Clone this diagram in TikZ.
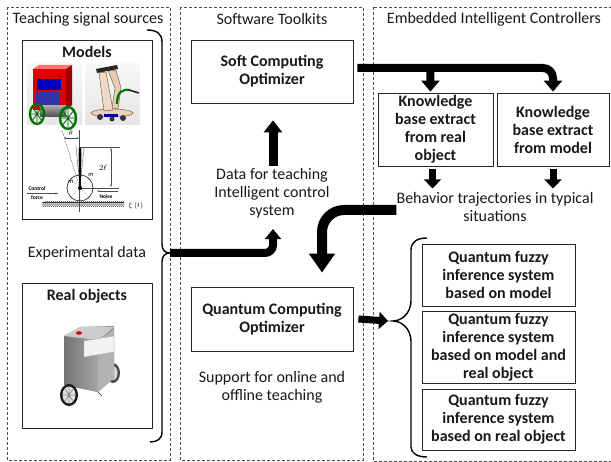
\documentclass[tikz,border=0pt]{standalone}
\usepackage{fontspec}
\setmainfont{Carlito}
\usetikzlibrary{arrows.meta,patterns,calc}
\begin{document}
\begin{tikzpicture}[x=1pt,y=-1pt,
  panel/.style={draw=black!70, dash pattern=on 3pt off 2pt, line width=0.7pt},
  box/.style={draw=black!85, line width=0.8pt, fill=white, inner sep=0pt},
  txt/.style={font=\fontsize{16}{18}\selectfont, align=center, inner sep=0pt, text=black!90},
  btxt/.style={font=\bfseries\fontsize{16}{18}\selectfont, align=center, inner sep=0pt, text=black!90},
  brace/.style={draw=black, line width=1.4pt},
  fatA/.style={line width=8pt, -{Triangle[width=16pt,length=10pt]}, rounded corners=8pt},
  fatU/.style={line width=9pt, -{Triangle[width=18pt,length=12pt]}},
  fatK/.style={line width=8pt, -{Triangle[width=18pt,length=11pt]}, rounded corners=10pt},
  fatS/.style={line width=7pt, -{Triangle[width=17pt,length=9pt]}},
  fatB/.style={line width=10pt, -{Triangle[width=25pt,length=19pt]}, rounded corners=22pt},
  tiny/.style={font=\bfseries\fontsize{5.5}{6}\selectfont, inner sep=0pt},
  thinl/.style={draw=black!70, line width=0.4pt}
]
\useasboundingbox (0,0) rectangle (611,462);
\fill[white] (0,0) rectangle (611,462);

% ---------- panels ----------
\draw[panel] (7,7) rectangle (170,460);
\draw[panel] (180,7) rectangle (363,460);
\draw[panel] (373,7) rectangle (616,461);

\node[txt] (t1) at (88,19) {Teaching signal sources};
\node[txt] (t2) at (272,19) {Software Toolkits};
\node[txt] (t3) at (494,19) {Embedded Intelligent Controllers};

% ---------- left panel ----------
\node[box, minimum width=130pt, minimum height=179pt] (mbox) at (87,129.5) {};
\node[btxt] (mtitle) at (87,52) {Models};
\node[txt] (exp) at (87,253) {Experimental data};
\node[box, minimum width=130pt, minimum height=145pt] (rbox) at (87,355.5) {};
\node[btxt] (rtitle) at (87,296) {Real objects};

% image 1: red robot
\shade[top color=black!3, bottom color=black!10] (27,64) rectangle (82,125);
\fill[red!55] (33,69) -- (39,65) -- (72,65) -- (66,69) -- cycle;
\fill[red!60!black] (66,69) -- (72,65) -- (72,105) -- (66,110) -- cycle;
\fill[red!85!black] (33,69) rectangle (66,110);
\fill[blue!75!black] (37,79) rectangle (61,90);
\fill[blue!55!black!80] (36,92) rectangle (59,106);
\fill[red!90!black] (33,69) rectangle (66,75);
\shade[top color=black!35, bottom color=black!70] (40,106) rectangle (66,117);
\draw[green!45!black, line width=2.2pt] (37,114) ellipse (7pt and 10pt);
\draw[green!45!black, line width=0.8pt] (37,104) -- (37,124) (30,114) -- (44,114) (32,107) -- (42,121) (42,107) -- (32,121);
\draw[green!45!black, line width=2.4pt] (68,118) ellipse (8pt and 11pt);
\draw[green!45!black, line width=0.8pt] (68,107) -- (68,129) (60,118) -- (76,118) (62,110) -- (74,126) (74,110) -- (62,126);

% image 2: tan robot
\shade[top color=black!3, bottom color=black!10] (85,64) rectangle (140,125);
\fill[brown!35!white] (112,113) ellipse (21pt and 4pt);
\draw[brown!60!black, line width=0.4pt] (112,113) ellipse (21pt and 4pt);
\fill[black!80] (100,117) circle (3pt) (123,118) circle (3pt) (112,119) circle (2.5pt);
\fill[blue!60!black] (104,114) rectangle (118,117);
\fill[brown!30!white] (99,73) -- (106,72) -- (113,110) -- (104,111) -- cycle;
\draw[brown!60!black, line width=0.4pt] (99,73) -- (106,72) -- (113,110) -- (104,111) -- cycle;
\fill[brown!40!white] (108,71) -- (116,70) -- (121,88) -- (118,109) -- (112,108) -- (115,88) -- cycle;
\draw[brown!60!black, line width=0.4pt] (108,71) -- (116,70) -- (121,88) -- (118,109) -- (112,108) -- (115,88) -- cycle;
\fill[black!85] (96,69) -- (117,65) -- (118,69) -- (97,73) -- cycle;
\draw[green!45!black, line width=2.2pt] (117,104) .. controls (117,92) and (122,89) .. (130,90);
\draw[black!85, line width=1.6pt] (129,90) -- (139,93);

% schematic
\draw[thinl] (79,130) -- (79,212);
\draw[thinl, dash pattern=on 1.5pt off 1pt] (80,188) -- (62,130);
\draw[thinl] (80,147) -- (120,147);
\draw[thinl] (80,188) -- (119,188);
\draw[thinl, {Stealth[length=2.5pt]}-{Stealth[length=2.5pt]}] (111,148) -- (111,187);
\node[font=\fontsize{8}{9}\selectfont, inner sep=0pt] (ell) at (103,168) {$2\ell$};
\draw[thinl, {Stealth[length=2pt]}-{Stealth[length=2pt]}] (64,138) -- (79,138);
\node[font=\fontsize{7}{8}\selectfont, inner sep=0pt] (th) at (71,133) {$\theta$};
\draw[black!60, line width=0.4pt] (80,188) -- (76,147) (80,188) -- (84,147) (80,188) -- (78,147) (80,188) -- (82,147);
\draw[black, line width=2.6pt] (80,188) -- (80,148);
\draw[black!80, line width=0.7pt] (80,188) circle (13pt);
\draw[black!50, line width=0.3pt, dash pattern=on 1pt off 1pt] (67,188) -- (93,188) (80,175) -- (80,201) (71,179) -- (89,197) (89,179) -- (71,197);
\fill[black] (80,188) circle (2pt);
\node[font=\itshape\fontsize{6.5}{7}\selectfont, inner sep=0pt] (m1) at (91,175) {m};
\node[font=\itshape\fontsize{6.5}{7}\selectfont, inner sep=0pt] (m2) at (71,182) {m};
\node[tiny] (cf1) at (37,189) {Control};
\node[tiny] (cf2) at (37,198) {force};
\draw[thinl, -{Stealth[length=2.5pt]}] (27,193.5) -- (58,193.5);
\node[tiny] (nz) at (106,197) {Noise};
\draw[thinl, -{Stealth[length=2.5pt]}] (118,191) -- (97,191);
\begin{scope}
\clip (42,202) rectangle (124,207);
\foreach \i in {0,2,...,90} { \draw[black!75, line width=0.45pt] (40+\i,208) -- (46+\i,201); }
\end{scope}
\draw[black!80, line width=0.5pt] (42,202) -- (124,202);
\node[font=\fontsize{7}{8}\selectfont, inner sep=0pt] (xi) at (136,206) {$\xi\ (t)$};

% real object robot
\fill[black!70] (113,373) ellipse (7pt and 10pt);
\fill[black!15] (113,373) ellipse (4.5pt and 7pt);
\fill[black!45] (64,336) -- (80,327) -- (114,326) -- (114,378) -- (98,392) -- (64,385) -- cycle;
\shade[left color=black!55, right color=black!35] (64,336) -- (98,340) -- (98,392) -- (64,385) -- cycle;
\fill[black!30] (98,340) -- (114,329) -- (114,378) -- (98,392) -- cycle;
\fill[black!20] (64,336) -- (80,327) -- (114,327) -- (98,340) -- cycle;
\fill[red!80!black] (79,333) ellipse (3pt and 1.8pt);
\fill[black!5] (84,341) -- (114,336) -- (114,352) -- (84,357) -- cycle;
\draw[black!30, line width=0.4pt] (84,341) -- (114,336) -- (114,352) -- (84,357) -- cycle;
\fill[black!90] (69,395) ellipse (9pt and 11pt);
\fill[black!12] (69,395) ellipse (6.5pt and 8.5pt);
\draw[black!45, line width=0.7pt] (69,387) -- (69,403) (63,395) -- (75,395) (65,389) -- (73,401) (73,389) -- (65,401);
\draw[black!80, line width=0.6pt] (98,392) -- (102,396);

% left brace
\coordinate (lbt) at (170,253);
\draw[brace] (147,30) .. controls (157,30) and (162,34) .. (162,42) -- (162,244)
  .. controls (162,250) and (165,253) .. (lbt)
  .. controls (165,253) and (162,256) .. (162,262) -- (162,432)
  .. controls (162,439) and (157,442) .. (150,442);

% ---------- middle panel ----------
\node[box, minimum width=162pt, minimum height=63pt, btxt] (sco) at (272,71.5) {Soft Computing\\Optimizer};
\node[txt] (data) at (272,193) {Data for teaching\\Intelligent control\\system};
\node[box, minimum width=162pt, minimum height=64pt, btxt] (qco) at (272,319) {Quantum Computing\\Optimizer};
\node[txt] (sup) at (272,387) {Support for online and\\offline teaching};

\coordinate (dataIn) at ($(data.south)+(1,11)$);
\draw[fatA] (lbt) -| (dataIn);
\coordinate (scoIn) at ($(sco.south)+(1,17)$);
\draw[fatU] ($(data.north)+(1,-2)$) -- (scoIn);

% ---------- right panel ----------
\node[box, minimum width=115pt, minimum height=73pt, btxt] (kb1) at (435.5,129.5) {Knowledge\\base extract\\from real\\object};
\node[box, minimum width=112pt, minimum height=73pt, btxt] (kb2) at (553,129.5) {Knowledge\\base extract\\from model};
\node[txt] (beh) at (495,207) {Behavior trajectories in typical\\situations};

\coordinate (scoOut) at ($(sco.east)+(4,-3.5)$);
\coordinate (kb1In) at ($(kb1.north)+(-5,-1)$);
\coordinate (kb2In) at ($(kb2.north)+(0,-1)$);
\draw[fatK] (scoOut) -| (kb2In);
\draw[fatK] ($(scoOut)+(73,0)$) -- (kb1In);

\coordinate (beh1) at ($(kb1.south)+(-3,22)$);
\coordinate (beh2) at ($(kb2.south)+(0,22)$);
\draw[fatS] ($(kb1.south)+(-3,3)$) -- (beh1);
\draw[fatS] ($(kb2.south)+(0,3)$) -- (beh2);

\coordinate (qcoIn) at ($(qco.north)+(50,-14)$);
\draw[fatB] ($(beh.west)+(0,3)$) -| (qcoIn);

% quantum fuzzy boxes
\node[box, minimum width=153pt, minimum height=62pt, btxt] (q1) at (498.5,275) {Quantum fuzzy\\inference system\\based on model};
\node[box, minimum width=153pt, minimum height=72pt, btxt] (q2) at (498.5,347) {Quantum fuzzy\\inference system\\based on model and\\real object};
\node[box, minimum width=153pt, minimum height=61pt, btxt] (q3) at (498.5,419.5) {Quantum fuzzy\\inference system\\based on real object};

\coordinate (rbt) at (393,321);
\draw[brace] (427,238) .. controls (417,238) and (411,242) .. (411,250) -- (411,300)
  .. controls (411,315) and (400,321) .. (rbt)
  .. controls (400,321) and (411,327) .. (411,342) -- (411,447)
  .. controls (411,453) and (417,457) .. (427,457);

\draw[fatS] ($(qco.east)+(5,0)$) -- ($(rbt)+(-5,0)$);
\end{tikzpicture}
\end{document}
